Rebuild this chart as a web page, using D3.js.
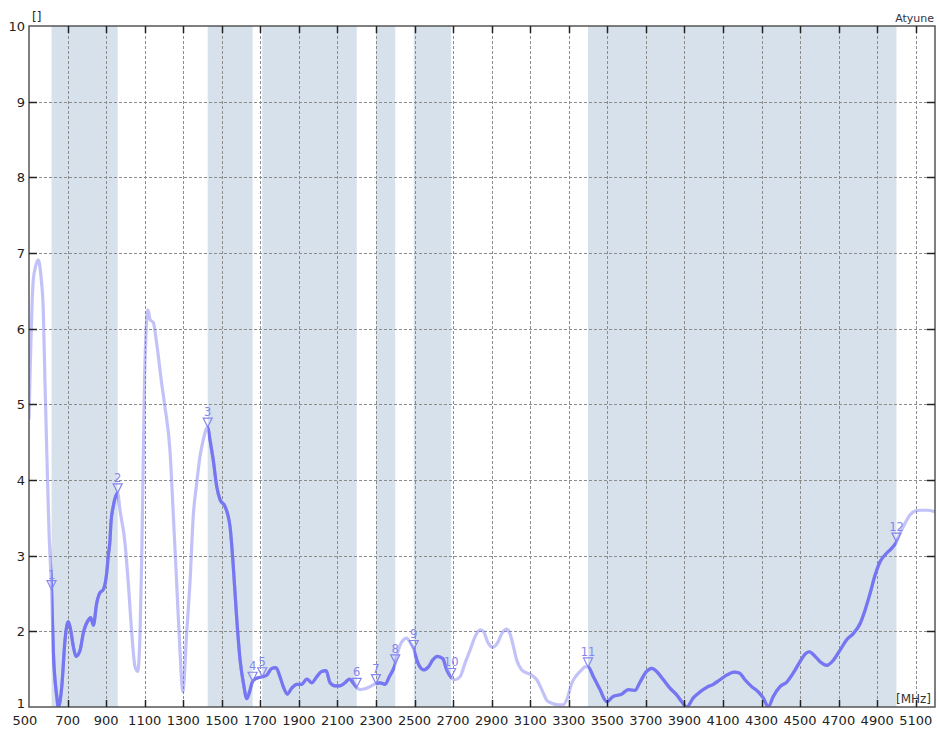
<!DOCTYPE html>
<html><head><meta charset="utf-8">
<script src="https://cdn.jsdelivr.net/npm/d3@7"></script>
<style>
html,body{margin:0;padding:0;background:#fff;}
svg text{font-family:"DejaVu Sans",Verdana,sans-serif;}
</style></head>
<body><svg id="c" width="937" height="729"></svg>
<script>
// ---- data ----
const freqs = [500,522,536,548,562,574,583,592,604,617,626,644,652,670,687,704,716,730,744,765,782,808,820,834,851,868,885,903,911,920,925,937,960,
972,998,1015,1033,1050,1064,1076,1085,1093,1100,1108,1116,1120,1128,1145,1162,1188,1205,1231,1249,1266,1283,1298,1318,1335,1352,1370,1387,1404,1427,
1439,1456,1474,1491,1517,1543,1560,1577,1595,1612,1630,1643,1660,1681,1710,1733,1759,1781,1802,1819,1840,1863,1889,1915,1941,1967,1993,2018,2041,2062,2087,2113,2139,2162,2183,2200,
2217,2243,2269,2300,2321,2347,2369,2400,2416,2439,2459,2480,2496,2515,2528,2549,2572,2594,2618,2646,2667,2690,2710,2736,2762,2788,2814,2840,2857,2883,2906,2929,2955,2978,2995,3013,3030,3056,3082,3108,3134,3160,3186,3212,3246,3272,3293,3315,3341,3367,3385,3400,
3428,3462,3497,3531,3575,3609,3644,3670,3704,3730,3756,3791,3825,3860,3886,3912,3946,3981,4016,4050,4085,4119,4157,4185,4214,4249,4283,4309,4335,4361,4396,4431,4465,4500,4526,4548,4578,4607,4638,4673,4707,4742,4776,4811,4837,4863,4889,4915,4941,4976,5000,5019,5045,5071,5097,5122,5157,5200];
const vswr = [4.80,6.64,6.84,6.91,6.69,6.25,5.28,4.40,3.30,2.55,1.75,1.14,1.00,1.27,1.89,2.13,2.02,1.80,1.67,1.75,1.98,2.15,2.18,2.08,2.37,2.51,2.55,2.77,2.99,3.20,3.43,3.65,3.83,
3.60,3.17,2.64,1.98,1.53,1.47,1.98,3.00,4.30,5.40,6.00,6.25,6.22,6.12,6.08,5.81,5.28,4.97,4.40,3.52,2.64,1.75,1.20,1.98,2.64,3.52,3.96,4.31,4.53,4.70,
4.53,4.26,3.91,3.74,3.65,3.38,2.85,2.19,1.62,1.32,1.11,1.19,1.34,1.38,1.40,1.42,1.51,1.52,1.40,1.27,1.17,1.25,1.30,1.30,1.37,1.32,1.40,1.47,1.48,1.32,1.28,1.28,1.32,1.37,1.31,1.26,
1.23,1.24,1.27,1.31,1.32,1.30,1.40,1.57,1.75,1.88,1.91,1.84,1.76,1.60,1.53,1.49,1.53,1.62,1.67,1.64,1.49,1.39,1.36,1.40,1.58,1.75,1.93,2.02,2.00,1.84,1.79,1.84,1.98,2.03,1.97,1.80,1.62,1.49,1.45,1.42,1.36,1.23,1.09,1.05,1.03,1.03,1.12,1.31,1.42,1.49,1.53,1.53,
1.40,1.23,1.07,1.14,1.17,1.23,1.22,1.33,1.47,1.51,1.47,1.36,1.25,1.16,1.07,1.00,1.12,1.20,1.26,1.30,1.36,1.42,1.46,1.45,1.36,1.27,1.20,1.12,1.00,1.14,1.27,1.33,1.45,1.60,1.70,1.73,1.67,1.59,1.55,1.62,1.75,1.89,1.97,2.10,2.28,2.50,2.74,2.92,3.01,3.10,3.18,3.30,3.43,3.54,3.59,3.60,3.60,3.58];
const bandStarts = [617,1427,1710,2300,2496,3400];
const bandEnds   = [960,1660,2200,2400,2690,5000];
const darkStarts = [617,1427,2300,2496,3400];
const darkEnds   = [960,2200,2400,2690,5000];
const markerFreqs = [617,960,1427,1660,1710,2200,2300,2400,2496,2690,3400,5000];
const markerLabels = ["1","2","3","4","5","6","7","8","9","10","11","12"];
const xTicks = d3.range(500,5101,200);
const yTicks = [1,2,3,4,5,6,7,8,9,10];
const yUnit = "[]", xUnit = "[MHz]", title = "Atyune";

// ---- layout ----
const L=29,R=935,T=26,B=707;
const svg=d3.select("#c");
const x=d3.scaleLinear().domain([500,5200]).range([L,R]);
const y=d3.scaleLinear().domain([1,10]).range([B,T]);
const data=freqs.map((f,i)=>({f,v:vswr[i]}));

svg.append("defs").append("clipPath").attr("id","plot").append("rect")
  .attr("x",L).attr("y",T).attr("width",R-L).attr("height",B-T);
const dc=svg.select("defs").append("clipPath").attr("id","dark");
darkStarts.forEach((s,i)=>dc.append("rect").attr("x",x(s)).attr("y",T).attr("width",x(darkEnds[i])-x(s)).attr("height",B-T));

// bands
svg.append("g").selectAll("rect").data(bandStarts).join("rect")
  .attr("x",d=>x(d)).attr("y",T).attr("width",(d,i)=>x(bandEnds[i])-x(d)).attr("height",B-T)
  .attr("fill","#d6e1ec");

// grid
const grid=svg.append("g").attr("stroke","#8c8c8c").attr("stroke-width",1).attr("stroke-dasharray","3,2");
xTicks.filter(t=>t>500).forEach(t=>grid.append("line").attr("x1",Math.round(x(t))+0.5).attr("x2",Math.round(x(t))+0.5).attr("y1",T).attr("y2",B));
yTicks.filter(t=>t>1&&t<10).forEach(t=>grid.append("line").attr("y1",Math.round(y(t))+0.5).attr("y2",Math.round(y(t))+0.5).attr("x1",L).attr("x2",R));

// lines
const line=d3.line().x(d=>x(d.f)).y(d=>y(d.v)).curve(d3.curveMonotoneX);
const pg=svg.append("g").attr("clip-path","url(#plot)");
pg.append("path").datum(data).attr("d",line).attr("fill","none")
  .attr("stroke","#7878f2").attr("stroke-opacity",0.45).attr("stroke-width",3.2).attr("stroke-linejoin","round");
pg.append("g").attr("clip-path","url(#dark)").append("path").datum(data).attr("d",line).attr("fill","none")
  .attr("stroke","#7676f2").attr("stroke-width",3.2).attr("stroke-linejoin","round");

// markers
const bis=d3.bisector(d=>d.f).left;
function valAt(f){const i=bis(data,f);if(i<=0)return data[0].v;if(i>=data.length)return data[data.length-1].v;
  const a=data[i-1],b=data[i];return a.v+(b.v-a.v)*(f-a.f)/(b.f-a.f);}
const mg=svg.append("g");
markerFreqs.forEach((f,i)=>{
  const px=x(f),py=y(valAt(f));
  mg.append("path").attr("d",`M${px-4.5},${py-9}L${px+4.5},${py-9}L${px},${py}Z`)
    .attr("fill","none").attr("stroke","#8585ee").attr("stroke-width",1.2);
  mg.append("text").attr("x",px).attr("y",py-11).attr("text-anchor","middle")
    .attr("font-size",11.5).attr("fill","#8585ee").text(markerLabels[i]);
});

// frame and ticks
const fr=svg.append("g").attr("stroke","#555");
fr.append("rect").attr("x",L).attr("y",T).attr("width",R-L).attr("height",B-T).attr("fill","none").attr("stroke-width",1.5);
xTicks.filter(t=>t>500).forEach(t=>{const xx=Math.round(x(t))+0.5;
  fr.append("line").attr("x1",xx).attr("x2",xx).attr("y1",T).attr("y2",T+7).attr("stroke","#222").attr("stroke-width",1.5);
  fr.append("line").attr("x1",xx).attr("x2",xx).attr("y1",B).attr("y2",B-7).attr("stroke","#222").attr("stroke-width",1.5);});
yTicks.filter(t=>t>1&&t<10).forEach(t=>{const yy=Math.round(y(t))+0.5;
  fr.append("line").attr("x1",L).attr("x2",L+8).attr("y1",yy).attr("y2",yy).attr("stroke","#222").attr("stroke-width",1.5);
  fr.append("line").attr("x1",R).attr("x2",R-8).attr("y1",yy).attr("y2",yy).attr("stroke","#222").attr("stroke-width",1.5);});

// tick labels
svg.append("g").selectAll("text").data(xTicks).join("text")
  .attr("x",d=>d===500?x(d)-4:x(d)).attr("y",725).attr("text-anchor","middle").attr("font-size",13).attr("fill","#222").text(d=>d);
svg.append("g").selectAll("text").data(yTicks).join("text")
  .attr("x",25).attr("y",d=>d===1?y(d)+1:y(d)+5).attr("text-anchor","end").attr("font-size",13).attr("fill","#222").text(d=>d);

svg.append("text").attr("x",32).attr("y",21).attr("font-size",12).attr("fill","#332222").text(yUnit);
svg.append("text").attr("x",934).attr("y",22).attr("text-anchor","end").attr("font-size",11).attr("fill","#333344").text(title);
svg.append("text").attr("x",931).attr("y",703).attr("text-anchor","end").attr("font-size",12).attr("fill","#333").text(xUnit);
</script></body></html>
